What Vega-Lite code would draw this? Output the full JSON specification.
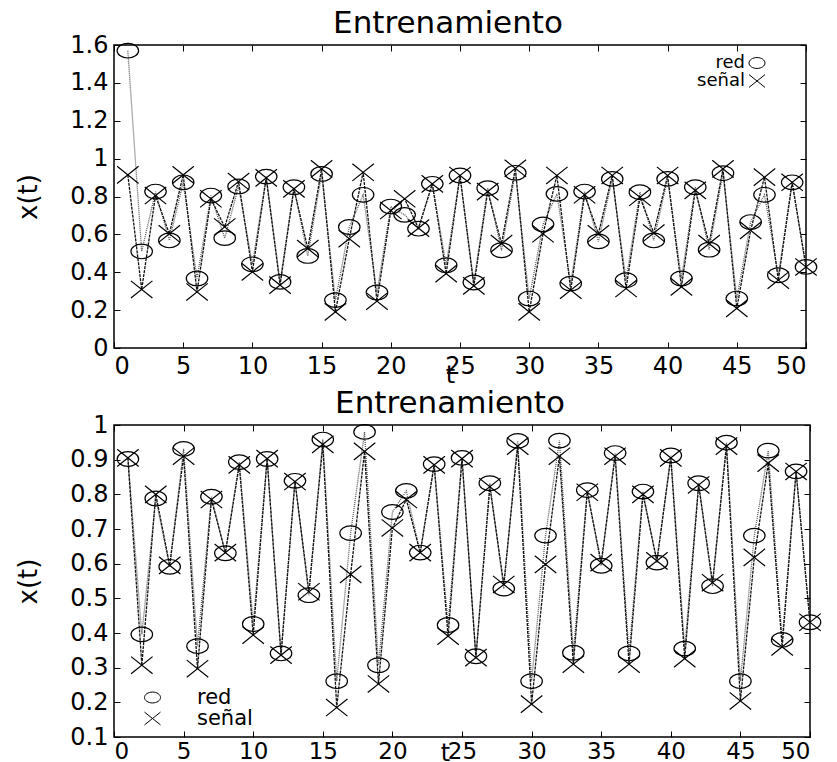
{
  "$schema": "https://vega.github.io/schema/vega-lite/v6.json",
  "padding": {"left": 15, "top": 7, "right": 5, "bottom": 0},
  "background": "white",
  "config": {
    "font": "DejaVu Sans",
    "view": {"stroke": "black", "strokeWidth": 1.5},
    "axis": {
      "grid": false, "domain": false, "tickColor": "black", "tickSize": -6, "tickWidth": 1,
      "labelColor": "black", "labelFontSize": 24, "labelPadding": 12, "labelFont": "DejaVu Sans",
      "titleFontSize": 26, "titleFontWeight": "normal", "titleColor": "black", "titleFont": "DejaVu Sans",
      "format": "~g"
    },
    "title": {"fontSize": 31, "fontWeight": "normal", "color": "black", "font": "DejaVu Sans", "offset": -7, "dx": -12},
    "legend": {"title": null, "labelFontSize": 20, "labelColor": "black", "labelFont": "DejaVu Sans", "symbolStrokeColor": "black", "symbolStrokeWidth": 1, "symbolSize": 256, "padding": 0}
  },
  "datasets": {
    "top": [
      {"t": 1, "red": 1.57, "señal": 0.914}, {"t": 2, "red": 0.51, "señal": 0.309}, {"t": 3, "red": 0.826, "señal": 0.805}, {"t": 4, "red": 0.568, "señal": 0.603}, {"t": 5, "red": 0.875, "señal": 0.914},
      {"t": 6, "red": 0.367, "señal": 0.296}, {"t": 7, "red": 0.805, "señal": 0.788}, {"t": 8, "red": 0.58, "señal": 0.639}, {"t": 9, "red": 0.853, "señal": 0.879}, {"t": 10, "red": 0.442, "señal": 0.402},
      {"t": 11, "red": 0.905, "señal": 0.898}, {"t": 12, "red": 0.349, "señal": 0.332}, {"t": 13, "red": 0.849, "señal": 0.84}, {"t": 14, "red": 0.486, "señal": 0.525}, {"t": 15, "red": 0.919, "señal": 0.946},
      {"t": 16, "red": 0.253, "señal": 0.191}, {"t": 17, "red": 0.639, "señal": 0.577}, {"t": 18, "red": 0.809, "señal": 0.928}, {"t": 19, "red": 0.293, "señal": 0.247}, {"t": 20, "red": 0.747, "señal": 0.726},
      {"t": 21, "red": 0.703, "señal": 0.788}, {"t": 22, "red": 0.63, "señal": 0.633}, {"t": 23, "red": 0.867, "señal": 0.867}, {"t": 24, "red": 0.437, "señal": 0.393}, {"t": 25, "red": 0.911, "señal": 0.911},
      {"t": 26, "red": 0.346, "señal": 0.328}, {"t": 27, "red": 0.844, "señal": 0.826}, {"t": 28, "red": 0.516, "señal": 0.551}, {"t": 29, "red": 0.925, "señal": 0.949}, {"t": 30, "red": 0.261, "señal": 0.191},
      {"t": 31, "red": 0.653, "señal": 0.603}, {"t": 32, "red": 0.814, "señal": 0.911}, {"t": 33, "red": 0.34, "señal": 0.305}, {"t": 34, "red": 0.826, "señal": 0.809}, {"t": 35, "red": 0.563, "señal": 0.603},
      {"t": 36, "red": 0.893, "señal": 0.911}, {"t": 37, "red": 0.358, "señal": 0.314}, {"t": 38, "red": 0.823, "señal": 0.796}, {"t": 39, "red": 0.568, "señal": 0.607}, {"t": 40, "red": 0.893, "señal": 0.911},
      {"t": 41, "red": 0.367, "señal": 0.323}, {"t": 42, "red": 0.849, "señal": 0.832}, {"t": 43, "red": 0.519, "señal": 0.551}, {"t": 44, "red": 0.923, "señal": 0.946}, {"t": 45, "red": 0.261, "señal": 0.209},
      {"t": 46, "red": 0.665, "señal": 0.621}, {"t": 47, "red": 0.809, "señal": 0.902}, {"t": 48, "red": 0.384, "señal": 0.358}, {"t": 49, "red": 0.875, "señal": 0.875}, {"t": 50, "red": 0.428, "señal": 0.428}
    ],
    "bottom": [
      {"t": 1, "red": 0.902, "señal": 0.905}, {"t": 2, "red": 0.396, "señal": 0.307}, {"t": 3, "red": 0.788, "señal": 0.8}, {"t": 4, "red": 0.591, "señal": 0.595}, {"t": 5, "red": 0.931, "señal": 0.91},
      {"t": 6, "red": 0.362, "señal": 0.297}, {"t": 7, "red": 0.793, "señal": 0.785}, {"t": 8, "red": 0.63, "señal": 0.632}, {"t": 9, "red": 0.893, "señal": 0.885}, {"t": 10, "red": 0.426, "señal": 0.394},
      {"t": 11, "red": 0.902, "señal": 0.903}, {"t": 12, "red": 0.341, "señal": 0.336}, {"t": 13, "red": 0.839, "señal": 0.837}, {"t": 14, "red": 0.509, "señal": 0.519}, {"t": 15, "red": 0.958, "señal": 0.944},
      {"t": 16, "red": 0.261, "señal": 0.185}, {"t": 17, "red": 0.688, "señal": 0.569}, {"t": 18, "red": 0.98, "señal": 0.924}, {"t": 19, "red": 0.307, "señal": 0.253}, {"t": 20, "red": 0.749, "señal": 0.703},
      {"t": 21, "red": 0.81, "señal": 0.785}, {"t": 22, "red": 0.632, "señal": 0.632}, {"t": 23, "red": 0.887, "señal": 0.885}, {"t": 24, "red": 0.423, "señal": 0.391}, {"t": 25, "red": 0.905, "señal": 0.903},
      {"t": 26, "red": 0.333, "señal": 0.329}, {"t": 27, "red": 0.832, "señal": 0.822}, {"t": 28, "red": 0.528, "señal": 0.54}, {"t": 29, "red": 0.954, "señal": 0.939}, {"t": 30, "red": 0.261, "señal": 0.195},
      {"t": 31, "red": 0.681, "señal": 0.598}, {"t": 32, "red": 0.955, "señal": 0.91}, {"t": 33, "red": 0.343, "señal": 0.31}, {"t": 34, "red": 0.812, "señal": 0.806}, {"t": 35, "red": 0.594, "señal": 0.603},
      {"t": 36, "red": 0.919, "señal": 0.91}, {"t": 37, "red": 0.341, "señal": 0.31}, {"t": 38, "red": 0.808, "señal": 0.8}, {"t": 39, "red": 0.603, "señal": 0.608}, {"t": 40, "red": 0.912, "señal": 0.905},
      {"t": 41, "red": 0.355, "señal": 0.326}, {"t": 42, "red": 0.832, "señal": 0.827}, {"t": 43, "red": 0.535, "señal": 0.545}, {"t": 44, "red": 0.949, "señal": 0.939}, {"t": 45, "red": 0.261, "señal": 0.204},
      {"t": 46, "red": 0.681, "señal": 0.618}, {"t": 47, "red": 0.926, "señal": 0.89}, {"t": 48, "red": 0.38, "señal": 0.36}, {"t": 49, "red": 0.866, "señal": 0.866}, {"t": 50, "red": 0.431, "señal": 0.431}
    ]
  },
  "spacing": -1,
  "vconcat": [
    {
      "width": 692, "height": 303,
      "title": "Entrenamiento",
      "data": {"name": "top"},
      "transform": [{"fold": ["red", "señal"], "as": ["serie", "valor"]}],
      "layer": [
        {
          "mark": {"type": "line", "strokeWidth": 1.3},
          "encoding": {
            "x": {"field": "t", "type": "quantitative", "scale": {"domain": [0, 50], "nice": false, "zero": false}, "axis": {"orient": "top", "labels": false, "title": null, "values": [0, 5, 10, 15, 20, 25, 30, 35, 40, 45, 50]}},
            "y": {"field": "valor", "type": "quantitative", "scale": {"domain": [0, 1.6], "nice": false}, "axis": {"orient": "right", "labels": false, "title": null, "values": [0, 0.2, 0.4, 0.6, 0.8, 1, 1.2, 1.4, 1.6]}},
            "detail": {"field": "serie"},
            "color": {"field": "serie", "scale": {"domain": ["red", "señal"], "range": ["#5a5a5a", "#111111"]}, "legend": null},
            "strokeDash": {"field": "serie", "scale": {"domain": ["red", "señal"], "range": [[1, 1], [3, 1]]}, "legend": null}
          }
        },
        {
          "mark": {"type": "point", "filled": false, "stroke": "black", "strokeWidth": 1.2, "size": 462, "opacity": 1},
          "encoding": {
            "x": {"field": "t", "type": "quantitative", "axis": {"orient": "bottom", "title": "t", "titleFontSize": 24, "titlePadding": -15, "titleX": 336, "values": [0, 5, 10, 15, 20, 25, 30, 35, 40, 45, 50]}},
            "y": {"field": "valor", "type": "quantitative", "axis": {"orient": "left", "title": "x(t)", "titlePadding": 28, "values": [0, 0.2, 0.4, 0.6, 0.8, 1, 1.2, 1.4, 1.6]}},
            "shape": {"field": "serie", "type": "nominal", "scale": {"domain": ["red", "señal"], "range": ["M-1,0A1,0.68,0,1,0,1,0A1,0.68,0,1,0,-1,0Z", "M-1,-0.8L1,0.8M-1,0.8L1,-0.8"]},
              "legend": {"orient": "none", "legendX": 634, "legendY": 9, "labelAlign": "right", "labelOffset": -21, "labelFontSize": 18, "rowPadding": -6}}
          }
        }
      ],
      "resolve": {"scale": {"shape": "independent"}, "legend": {"shape": "independent"}}
    },
    {
      "width": 696, "height": 312,
      "title": "Entrenamiento",
      "data": {"name": "bottom"},
      "transform": [{"fold": ["red", "señal"], "as": ["serie", "valor"]}],
      "layer": [
        {
          "mark": {"type": "line", "strokeWidth": 1.3},
          "encoding": {
            "x": {"field": "t", "type": "quantitative", "scale": {"domain": [0, 50], "nice": false, "zero": false}, "axis": {"orient": "top", "labels": false, "title": null, "values": [0, 5, 10, 15, 20, 25, 30, 35, 40, 45, 50]}},
            "y": {"field": "valor", "type": "quantitative", "scale": {"domain": [0.1, 1], "nice": false, "zero": false}, "axis": {"orient": "right", "labels": false, "title": null, "values": [0.1, 0.2, 0.3, 0.4, 0.5, 0.6, 0.7, 0.8, 0.9, 1]}},
            "detail": {"field": "serie"},
            "color": {"field": "serie", "scale": {"domain": ["red", "señal"], "range": ["#5a5a5a", "#111111"]}, "legend": null},
            "strokeDash": {"field": "serie", "scale": {"domain": ["red", "señal"], "range": [[1, 1], [3, 1]]}, "legend": null}
          }
        },
        {
          "mark": {"type": "point", "filled": false, "stroke": "black", "strokeWidth": 1.2, "size": 462, "opacity": 1},
          "encoding": {
            "x": {"field": "t", "type": "quantitative", "axis": {"orient": "bottom", "title": "t", "titleFontSize": 24, "titlePadding": -22, "titleX": 331, "labelPadding": 9, "labelFontSize": 23, "values": [0, 5, 10, 15, 20, 25, 30, 35, 40, 45, 50]}},
            "y": {"field": "valor", "type": "quantitative", "axis": {"orient": "left", "title": "x(t)", "titlePadding": 28, "values": [0.1, 0.2, 0.3, 0.4, 0.5, 0.6, 0.7, 0.8, 0.9, 1]}},
            "shape": {"field": "serie", "type": "nominal", "scale": {"domain": ["red", "señal"], "range": ["M-1,0A1,0.68,0,1,0,1,0A1,0.68,0,1,0,-1,0Z", "M-1,-0.8L1,0.8M-1,0.8L1,-0.8"]},
              "legend": {"orient": "none", "legendX": 28, "legendY": 262, "labelOffset": 34, "labelFontSize": 21, "rowPadding": -3}}
          }
        }
      ],
      "resolve": {"scale": {"shape": "independent"}, "legend": {"shape": "independent"}}
    }
  ],
  "resolve": {"scale": {"x": "independent", "y": "independent", "shape": "independent", "color": "independent", "strokeDash": "independent"}, "legend": {"shape": "independent"}}
}
